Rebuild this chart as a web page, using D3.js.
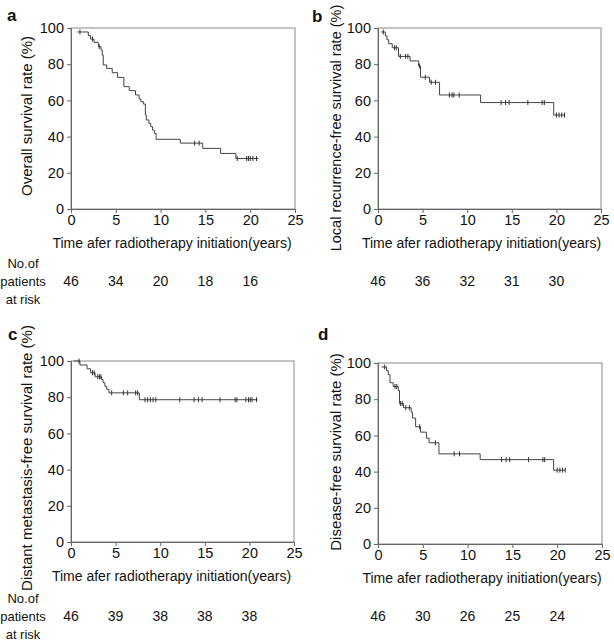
<!DOCTYPE html>
<html>
<head>
<meta charset="utf-8">
<script src="https://cdn.jsdelivr.net/npm/d3@7"></script>
<style>
  body { margin: 0; background: #fff; }
  svg { display: block; }
  text { font-family: "Liberation Sans", Arial, sans-serif; fill: #111; }
</style>
</head>
<body>
<svg id="chart" width="614" height="643"></svg>
<script>
// axis ticks and labels
const xTicks = [0, 5, 10, 15, 20, 25];
const yTicks = [0, 20, 40, 60, 80, 100];
const riskTimes = [0, 5, 10, 15, 20];
const timeLabel = "Time afer radiotherapy initiation(years)";

// a - overall survival (step times in years, survival in %)
const aTime = [0.7, 1.93, 2.19, 2.57, 3.05, 3.35, 3.49, 3.6, 3.98, 4.6, 5.2, 5.9, 6.5, 7.2, 7.6, 7.8, 8.07, 8.3, 8.4, 8.7, 8.9, 9.1, 9.3, 9.5, 12.2, 14.7, 16.7, 18.4, 20.9];
const aSurv = [97.8, 95.8, 93.9, 92.1, 89.7, 87.8, 85.1, 79.6, 77.7, 75.3, 72.7, 67.6, 65.4, 63.0, 60.8, 59.3, 58.0, 51.9, 49.2, 47.3, 45.5, 43.6, 41.8, 38.5, 36.4, 33.5, 30.7, 27.9, 27.9];
const aCens = [1.0, 2.4, 3.15, 13.8, 14.3, 18.55, 19.6, 19.8, 20.0, 20.3, 20.7];
const aRisk = [46, 34, 20, 18, 16];

// b - local recurrence-free survival
const bTime = [0.35, 0.82, 1.0, 1.2, 1.6, 2.3, 3.6, 4.55, 4.77, 5.78, 6.9, 11.5, 19.7, 20.9];
const bSurv = [97.8, 95.7, 93.5, 91.3, 89.1, 84.3, 81.8, 79.0, 72.8, 70.0, 63.0, 58.8, 51.9, 51.9];
const bCens = [0.6, 1.86, 2.05, 2.5, 3.1, 3.35, 4.66, 5.3, 5.97, 6.45, 8.0, 8.3, 8.5, 9.1, 13.8, 14.3, 14.7, 16.8, 18.4, 18.65, 20.0, 20.3, 20.6, 20.9];
const bRisk = [46, 36, 32, 31, 30];

// c - distant metastasis-free survival
const cTime = [0.3, 1.0, 1.8, 2.2, 2.7, 3.44, 3.6, 3.8, 4.0, 4.26, 7.66, 20.9];
const cSurv = [100, 97.8, 95.7, 93.5, 91.3, 89.7, 88.0, 86.0, 84.4, 82.4, 78.6, 78.6];
const cCens = [0.9, 2.4, 2.6, 3.0, 3.2, 3.35, 4.56, 5.87, 6.35, 7.25, 7.47, 8.3, 8.6, 8.9, 9.2, 9.5, 12.2, 13.8, 14.3, 14.7, 16.7, 18.4, 18.6, 19.6, 19.9, 20.1, 20.3, 20.8];
const cRisk = [46, 39, 38, 38, 38];

// d - disease-free survival
const dTime = [0.4, 0.96, 1.15, 1.34, 1.7, 2.26, 2.4, 2.85, 3.7, 3.85, 4.2, 4.75, 5.4, 5.7, 6.8, 11.4, 19.6, 20.9];
const dSurv = [97.8, 95.7, 93.5, 89.1, 87.0, 84.8, 77.6, 75.3, 72.8, 69.6, 64.8, 61.8, 58.5, 55.9, 49.8, 46.6, 40.8, 40.8];
const dCens = [0.75, 1.9, 2.1, 2.5, 2.7, 3.1, 3.5, 4.65, 6.4, 8.5, 9.1, 13.8, 14.3, 14.7, 16.8, 18.4, 18.6, 20.0, 20.3, 20.6, 20.9];
const dRisk = [46, 30, 26, 25, 24];

const panels = [
  {tag: "a", yLabel: "Overall survival rate (%)", time: aTime, surv: aSurv, cens: aCens, risk: aRisk,
   left: 71, top: 28, w: 224, h: 181, labX: 27, labY: 116, labFs: 15, titleDx: -11, tagX: 7, tagY: 21, riskY: 286, head: true},
  {tag: "b", yLabel: "Local recurrence-free survival rate (%)", time: bTime, surv: bSurv, cens: bCens, risk: bRisk,
   left: 378, top: 28, w: 223, h: 181, labX: 336, labY: 128, labFs: 14.5, titleDx: -8, tagX: 312, tagY: 22, riskY: 286, head: false},
  {tag: "c", yLabel: "Distant metastasis-free survival rate (%)", time: cTime, surv: cSurv, cens: cCens, risk: cRisk,
   left: 71, top: 361, w: 223, h: 181, labX: 27, labY: 458, labFs: 15, titleDx: -11, tagX: 8, tagY: 340, riskY: 621, head: true},
  {tag: "d", yLabel: "Disease-free survival rate (%)", time: dTime, surv: dSurv, cens: dCens, risk: dRisk,
   left: 378, top: 363, w: 224, h: 181, labX: 336, labY: 452, labFs: 15, titleDx: -8, tagX: 318, tagY: 340, riskY: 621, head: false}
];

const svg = d3.select("#chart");
const fs = 14;

panels.forEach(p => {
  const x = d3.scaleLinear().domain([0, 25]).range([0, p.w]);
  const y = d3.scaleLinear().domain([0, 100]).range([p.h, 0]);
  const g = svg.append("g").attr("transform", "translate(" + p.left + "," + p.top + ")");

  // box
  g.append("rect")
    .attr("width", p.w).attr("height", p.h)
    .attr("fill", "none").attr("stroke", "#8a8a8a").attr("stroke-width", 1);

  const xAxis = g.append("g")
    .attr("transform", "translate(0," + p.h + ")")
    .call(d3.axisBottom(x).tickValues(xTicks).tickSize(4).tickPadding(2));
  const yAxis = g.append("g")
    .call(d3.axisLeft(y).tickValues(yTicks).tickSize(4).tickPadding(3));
  [xAxis, yAxis].forEach(ax => {
    ax.select(".domain").attr("stroke", "#666");
    ax.selectAll(".tick line").attr("stroke", "#666");
    ax.selectAll(".tick text").attr("font-size", 14.5).attr("fill", "#111")
      .style("font-family", "'Liberation Sans', Arial, sans-serif");
  });

  // survival curve
  const pts = p.time.map((t, i) => [t, p.surv[i]]);
  g.append("path")
    .datum(pts)
    .attr("fill", "none")
    .attr("stroke", "#444")
    .attr("stroke-width", 1)
    .attr("d", d3.line()
      .x(d => x(d[0]))
      .y(d => y(d[1]))
      .curve(d3.curveStepAfter));

  // censor marks
  const bis = d3.bisector(d => d[0]).right;
  g.selectAll(".cens")
    .data(p.cens)
    .enter().append("line")
    .attr("x1", t => x(t)).attr("x2", t => x(t))
    .attr("y1", t => y(pts[Math.max(0, bis(pts, t) - 1)][1]) - 2.5)
    .attr("y2", t => y(pts[Math.max(0, bis(pts, t) - 1)][1]) + 2.5)
    .attr("stroke", "#333").attr("stroke-width", 1);

  // axis titles
  g.append("text")
    .attr("x", p.w / 2 + p.titleDx).attr("y", p.h + 39)
    .attr("text-anchor", "middle").attr("font-size", fs)
    .text(timeLabel);
  svg.append("text")
    .attr("transform", "translate(" + p.labX + "," + p.labY + ") rotate(-90)")
    .attr("text-anchor", "middle").attr("dy", "0.35em").attr("font-size", p.labFs)
    .text(p.yLabel);

  // panel letter
  svg.append("text")
    .attr("x", p.tagX).attr("y", p.tagY)
    .attr("font-size", 17).attr("font-weight", "bold")
    .text(p.tag);

  // number at risk
  svg.selectAll(null)
    .data(p.risk)
    .enter().append("text")
    .attr("x", (d, i) => p.left + x(riskTimes[i]))
    .attr("y", p.riskY)
    .attr("text-anchor", "middle").attr("font-size", fs)
    .text(d => d);
  if (p.head) {
    ["No.of", "patients", "at risk"].forEach((s, i) => {
      svg.append("text")
        .attr("x", 23).attr("y", p.riskY + (i - 1) * 18)
        .attr("text-anchor", "middle").attr("font-size", 13)
        .text(s);
    });
  }
});
</script>
</body>
</html>
